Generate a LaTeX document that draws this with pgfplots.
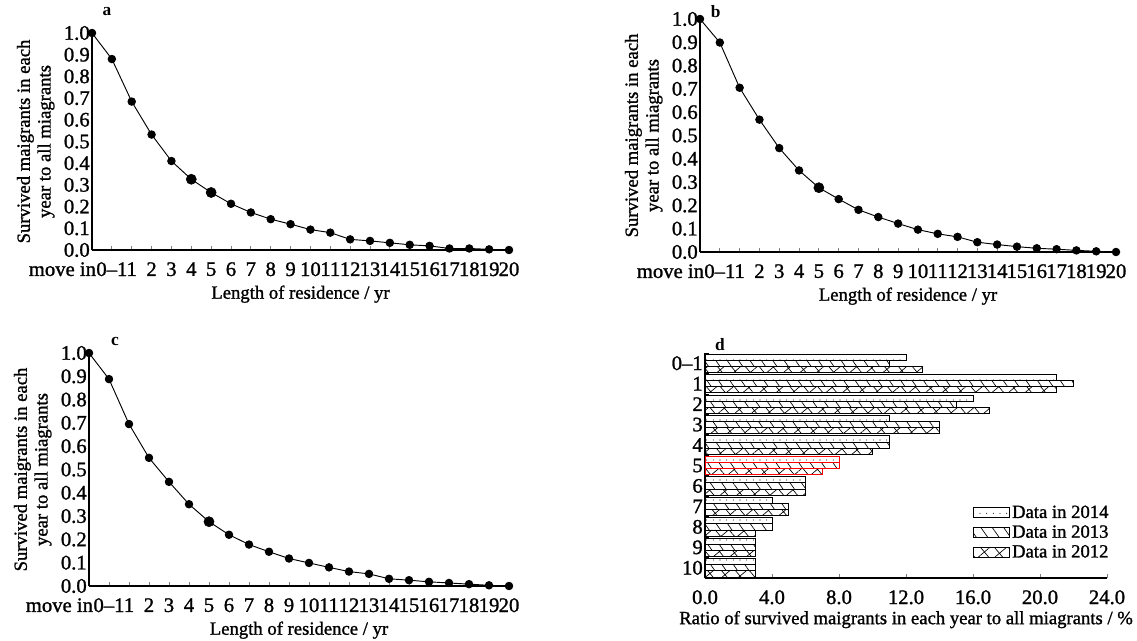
\documentclass[border=0pt]{standalone}
\usepackage{fontspec}
\setmainfont{Liberation Serif}[UprightFeatures={FakeBold=1.2}]
\usepackage{pgfplots}
\pgfplotsset{compat=1.18}
\usetikzlibrary{patterns.meta}

% survival curves: x = 0 (move in), 1 (0-1), 2 (1) ... 21 (20)
\pgfplotstableread{
x y
0 1.000
1 0.880
2 0.684
3 0.532
4 0.410
5 0.326
6 0.265
7 0.213
8 0.173
9 0.142
10 0.119
11 0.094
12 0.080
13 0.049
14 0.042
15 0.033
16 0.024
17 0.019
18 0.007
19 0.007
20 0.003
21 0.000
}\dataA
\pgfplotstableread{
x y
0 1.000
1 0.899
2 0.705
3 0.568
4 0.446
5 0.350
6 0.276
7 0.227
8 0.181
9 0.150
10 0.122
11 0.096
12 0.078
13 0.065
14 0.042
15 0.032
16 0.023
17 0.016
18 0.012
19 0.007
20 0.003
21 0.000
}\dataB
\pgfplotstableread{
x y
0 1.000
1 0.888
2 0.695
3 0.550
4 0.447
5 0.351
6 0.276
7 0.220
8 0.178
9 0.147
10 0.118
11 0.099
12 0.080
13 0.062
14 0.052
15 0.031
16 0.025
17 0.018
18 0.013
19 0.008
20 0.003
21 0.000
}\dataC

\pgfplotsset{
  curve/.style={
    scale only axis, clip=false,
    xmin=0, xmax=21, ymin=0, ymax=1,
    axis x line*=bottom, axis y line*=left,
    axis line style={-, line width=0.8pt},
    xtick={0,...,21},
    xticklabels={\llap{move in\kern-3pt},0--1,1,2,3,4,5,6,7,8,9,10,11,12,13,14,15,16,17,18,19,20},
    x tick style={line width=0.6pt},
    tick align=inside, major tick length=3pt,
    ytick={0,0.1,...,1.0},
    y tick style={draw=none},
    yticklabel style={/pgf/number format/.cd, fixed, fixed zerofill, precision=1, assume math mode=true},
    tick label style={font=\fontsize{15.5}{17}\selectfont, inner sep=1.5pt},
    xticklabel style={yshift=-7.5pt},
    label style={font=\fontsize{14}{15.5}\selectfont},
    xlabel={Length of residence / yr},
    ylabel={Survived maigrants in each\\year to all miagrants},
    ylabel style={align=center, yshift=2pt},
    xlabel style={yshift=-2pt},
  },
  line/.style={black, line width=0.7pt, mark=*, mark size=2.8pt},
  big/.style={black, only marks, mark=*, mark size=3.8pt},
}

\begin{document}
\begin{tikzpicture}[font=\fontsize{14}{16}\selectfont]
\useasboundingbox (0,0) rectangle (852.75pt,480pt);

% panel a
\begin{axis}[curve, at={(69pt,292.5pt)}, anchor=south west, width=312.75pt, height=162.75pt]
\addplot[line] table[x=x, y=y] {\dataA};
\addplot[big] coordinates {(5,0.326) (6,0.265)};
\node[font=\bfseries\fontsize{13}{15}\selectfont] at (rel axis cs:0.036,1) [yshift=15.75pt] {a};
\end{axis}

% panel b
\begin{axis}[curve, at={(525pt,291pt)}, anchor=south west, width=312pt, height=174.75pt]
\addplot[line] table[x=x, y=y] {\dataB};
\addplot[big] coordinates {(6,0.276)};
\node[font=\bfseries\fontsize{13}{15}\selectfont] at (rel axis cs:0.038,1) [yshift=5.25pt] {b};
\end{axis}

% panel c
\begin{axis}[curve, at={(66.75pt,40.5pt)}, anchor=south west, width=315pt, height=174.75pt]
\addplot[line] table[x=x, y=y] {\dataC};
\addplot[big] coordinates {(6,0.276)};
\node[font=\bfseries\fontsize{13}{15}\selectfont] at (rel axis cs:0.062,1) [yshift=9pt] {c};
\end{axis}

% panel d: y = 10 (0-1) ... 0 (10)
\begin{axis}[
  at={(528.75pt,46.5pt)}, anchor=south west, scale only axis, clip=false,
  width=301.5pt, height=168.75pt,
  xbar=0pt, bar width=4.6pt,
  xmin=0, xmax=24, ymin=-0.5, ymax=10.5,
  axis x line*=bottom, axis y line*=left,
  axis line style={-, line width=0.8pt},
  xtick={0,4,...,24},
  xticklabel style={yshift=-7.5pt, /pgf/number format/.cd, fixed, fixed zerofill, precision=1, assume math mode=true},
  ytick={0,...,10},
  yticklabels={10,9,8,7,6,5,4,3,2,1,0--1},
  y tick style={draw=none},
  extra y ticks={-0.5,0.5,...,10.5},
  extra y tick labels={},
  extra y tick style={y tick style={draw=black, line width=0.6pt}},
  tick align=inside, major tick length=3pt,
  x tick style={line width=0.6pt},
  tick label style={font=\fontsize{15.5}{17}\selectfont, inner sep=1.5pt},
  xlabel={Ratio of survived maigrants in each year to all miagrants / \%},
  xlabel style={font=\fontsize{14}{16}\selectfont},
  legend style={at={(rel axis cs:0.665,0.335)}, anchor=north west, draw=none, fill=none,
    font=\fontsize{14}{16}\selectfont, row sep=0pt, inner sep=0pt},
  legend cell align=left,
  legend image code/.code={\draw[#1, bar shift=0pt] (0pt,-3.75pt) rectangle (27pt,3.75pt);},
]
\addplot[draw=black, line width=0.6pt, bar shift=4.6pt, pattern={Dots[distance=5pt, radius=0.4pt]}]
  coordinates {(12,10) (21,9) (16,8) (11,7) (11,6) (6,4) (4,3) (4,2) (3,1) (3,0)};
\addlegendentry{Data in 2014}
\addplot[draw=black, line width=0.6pt, bar shift=0pt, pattern={Lines[angle=-55, distance=7pt, line width=0.5pt]}]
  coordinates {(11,10) (22,9) (15,8) (14,7) (11,6) (6,4) (5,3) (4,2) (3,1) (3,0)};
\addlegendentry{Data in 2013}
\addplot[draw=black, line width=0.6pt, bar shift=-4.6pt, pattern={Hatch[angle=40, distance=8pt, line width=0.5pt]}]
  coordinates {(13,10) (21,9) (17,8) (14,7) (10,6) (6,4) (5,3) (3,2) (3,1) (3,0)};
\addlegendentry{Data in 2012}
% highlighted category 5
\addplot[forget plot, draw=red, line width=0.6pt, bar shift=4.6pt, pattern={Dots[distance=5pt, radius=0.4pt]}]
  coordinates {(8,5)};
\addplot[forget plot, draw=red, line width=0.6pt, bar shift=0pt, pattern={Lines[angle=-55, distance=7pt, line width=0.5pt]}]
  coordinates {(8,5)};
\addplot[forget plot, draw=red, line width=0.6pt, bar shift=-4.6pt, pattern={Hatch[angle=40, distance=8pt, line width=0.5pt]}]
  coordinates {(7,5)};
\node[font=\bfseries\fontsize{13}{15}\selectfont] at (rel axis cs:0.037,1) [yshift=6pt] {d};
\end{axis}
\end{tikzpicture}
\end{document}
